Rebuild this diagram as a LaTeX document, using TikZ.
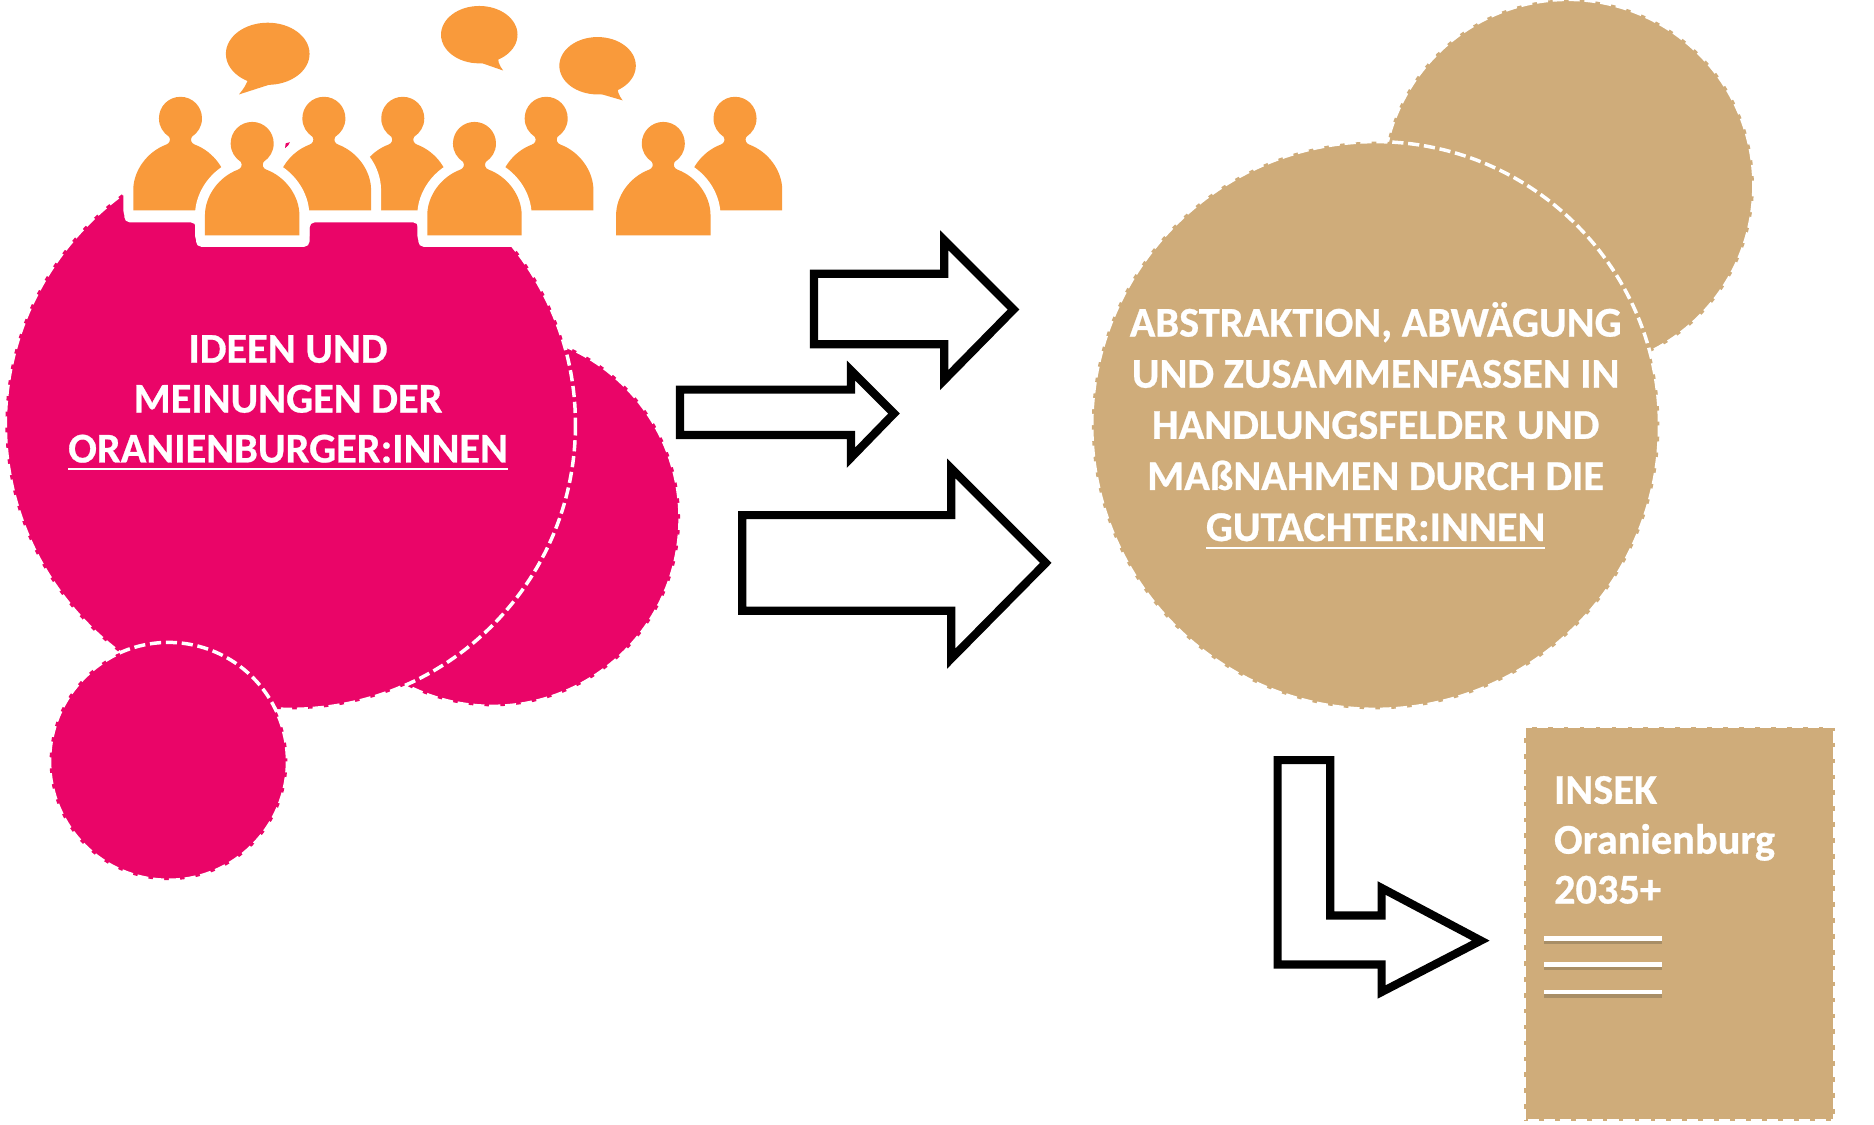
\documentclass[tikz,border=0pt]{standalone}
\usepackage{fontspec}
\setmainfont{Carlito}[BoldFeatures={FakeBold=0.6}]
\definecolor{pinkc}{HTML}{EA0568}
\definecolor{tanc}{HTML}{CFAC7A}
\definecolor{orangec}{HTML}{F99A3B}
\definecolor{shadowc}{HTML}{9C8560}
\def\personshape{(-39.5,95) -- (-39.5,78) .. controls (-39.5,62) and (-28,46) .. (-12,40) .. controls (-9,39) and (-8,36) .. (-9.5,33.5) .. controls (-14.5,30) and (-18,25) .. (-18,18) .. controls (-18,8) and (-10,0) .. (0,0) .. controls (10,0) and (18,8) .. (18,18) .. controls (18,25) and (14.5,30) .. (9.5,33.5) .. controls (8,36) and (9,39) .. (12,40) .. controls (28,46) and (39.5,62) .. (39.5,78) -- (39.5,95) -- cycle}
\newcommand{\person}[2]{%
  \begin{scope}[shift={(#1,#2)}]
    \draw[white,line width=0.4cm,line join=round] \personshape;
    \fill[orangec] \personshape;
  \end{scope}}
\newcommand{\ulined}[1]{\leavevmode\vtop{\hbox{#1}\kern3.2pt\hrule height 1.1pt}}
\tikzset{
  pinkblob/.style={fill=pinkc,draw=white,line width=0.07cm,dash pattern=on 0.225cm off 0.095cm},
  tanblob/.style={fill=tanc,draw=white,line width=0.07cm,dash pattern=on 0.225cm off 0.095cm},
  blockarrow/.style={draw=black,fill=white,line width=0.165cm,miter limit=10},
  whitetext/.style={text=white,font=\fontsize{24.2}{28.5}\selectfont\bfseries,align=center,inner sep=0pt},
  widerlead/.style={font=\fontsize{24.2}{29.2}\selectfont\bfseries},
  rule/.style={draw=white,line width=0.095cm},
  ruleshadow/.style={draw=shadowc,line width=0.09cm,opacity=.75},
  bubble/.style={fill=orangec}
}
\begin{document}
\begin{tikzpicture}[x=0.024cm,y=-0.024cm]
\useasboundingbox (0,0) rectangle (1568,940.5);
% pink circles
\path[pinkblob] (412,434) circle (157);
\path[pinkblob] (243,355) circle (238.5);
\path[pinkblob] (141,637) circle (99.5);
% tan circles
\path[tanblob] (1312,155) circle (155.5);
\path[tanblob] (1151,356) circle (237.5);
\path[tanblob] (1275,608) rectangle (1535,938);
% white backing behind the people
\fill[white,rounded corners=3] (104,0) -- (104,186) -- (164,186) -- (164,206.5) -- (259,206.5) -- (259,186) -- (350,186) -- (350,206.5) -- (480,206.5) -- (480,0) -- cycle;
\fill[pinkc] (238.5,124) -- (239,120) -- (242.5,119) -- (241,122) -- cycle;
% people, back row
\person{151}{81}
\person{337}{81}
\person{271}{81}
\person{457}{81}
\person{615}{81}
% people, front row
\person{211}{102}
\person{397}{102}
\person{555}{102}
% speech bubbles
\fill[bubble] (224,45) ellipse (35 and 26);
\fill[bubble] (208,64) .. controls (207,70) and (204,74) .. (200,79) -- (228,70) -- cycle;
\fill[bubble] (401,29) ellipse (32 and 24);
\fill[bubble] (398,51) -- (421,59) .. controls (418,55) and (415,50) .. (418,44) -- cycle;
\fill[bubble] (500,55) ellipse (32 and 24);
\fill[bubble] (497,77) -- (521,84) .. controls (518,80) and (515,75) .. (518,69) -- cycle;
% arrows
\draw[blockarrow] (681,229) -- (790,229) -- (790,201) -- (848,259) -- (790,318) -- (790,288) -- (681,288) -- cycle;
\draw[blockarrow] (569,326) -- (712,326) -- (712,310) -- (748,346) -- (712,383) -- (712,364) -- (569,364) -- cycle;
\draw[blockarrow] (621,431) -- (796,431) -- (796,392) -- (875,471) -- (796,551) -- (796,511) -- (621,511) -- cycle;
\draw[blockarrow] (1069,636) -- (1113,636) -- (1113,766) -- (1156,766) -- (1156,743) -- (1239,787) -- (1156,830) -- (1156,807) -- (1069,807) -- cycle;
% texts
\node[whitetext] (ideas) at (241,337) {IDEEN UND\\MEINUNGEN DER\\\ulined{ORANIENBURGER:INNEN}};
\node[whitetext,widerlead] (abstr) at (1151,356) {ABSTRAKTION, ABWÄGUNG\\UND ZUSAMMENFASSEN IN\\HANDLUNGSFELDER UND\\MAßNAHMEN DURCH DIE\\\ulined{GUTACHTER:INNEN}};
\node[whitetext,align=left,anchor=north west] (insek) at (1300,649) {INSEK\\Oranienburg\\2035+};
% rules
\draw[ruleshadow] (1292,788) -- (1391,788);
\draw[ruleshadow] (1292,810) -- (1391,810);
\draw[ruleshadow] (1292,833) -- (1391,833);
\draw[rule] (1292,785) -- (1391,785);
\draw[rule] (1292,807) -- (1391,807);
\draw[rule] (1292,830) -- (1391,830);
\end{tikzpicture}
\end{document}
